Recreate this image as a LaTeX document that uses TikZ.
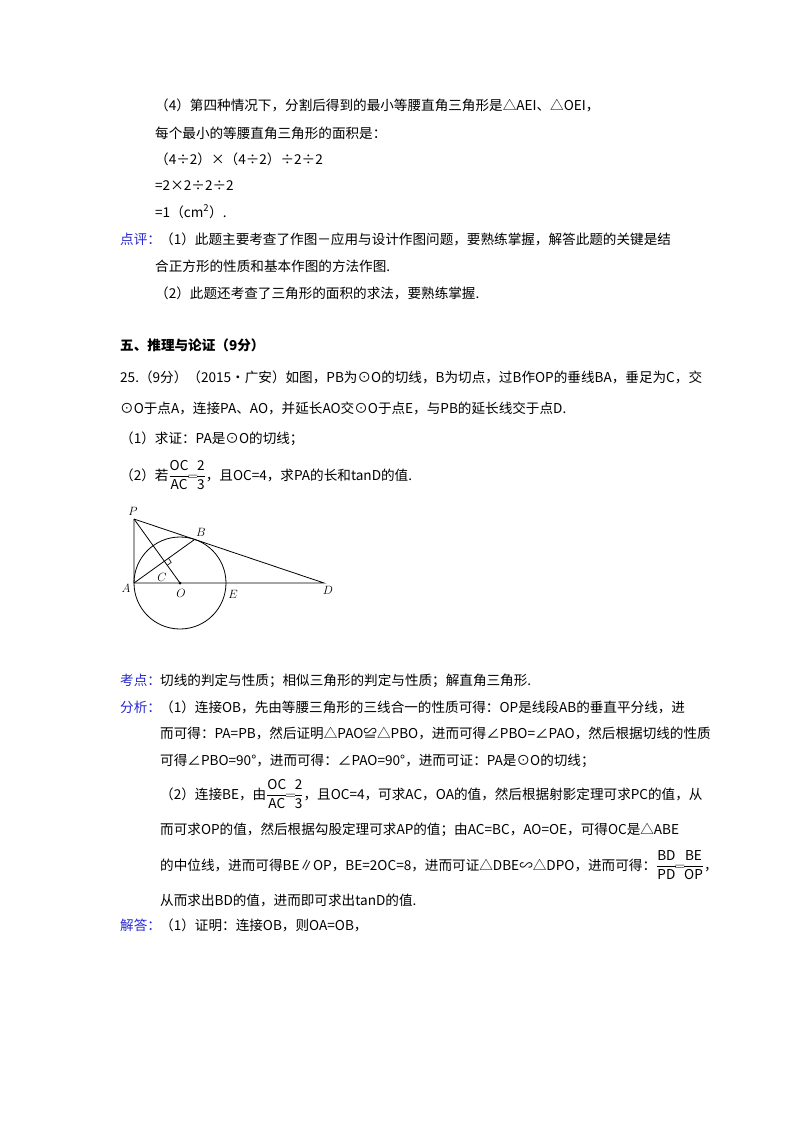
\documentclass[tikz,border=0pt]{standalone}
\usepackage{fontspec}
\setmainfont{Noto Sans CJK SC}
\usetikzlibrary{calc}
\definecolor{lblue}{RGB}{40,40,210}
\newcommand{\fr}[2]{$\dfrac{\mathrm{#1}}{\mathrm{#2}}$}
\usepackage{amsmath}
\begin{document}
\begin{tikzpicture}[x=1pt,y=-1pt,
  t/.style={anchor=base west,inner sep=0pt,font=\fontsize{13.6}{15}\selectfont},
  lb/.style={t,text=lblue},
  pt/.style={inner sep=0pt,font=\fontsize{13}{14}\selectfont}]
\fill[white] (0,0) rectangle (800,1132);
\useasboundingbox (0,0) rectangle (800,1132);
\node[t] (l1) at (155,110) {（4）第四种情况下，分割后得到的最小等腰直角三角形是△AEI、△OEI，};
\node[t] (l2) at (155,138) {每个最小的等腰直角三角形的面积是：};
\node[t] (l3) at (155,164) {（4÷2）×（4÷2）÷2÷2};
\node[t] (l4) at (155,190) {=2×2÷2÷2};
\node[t] (l5) at (155,217) {=1（cm\textsuperscript{2}）.};
\node[lb] (d1) at (120,244) {点评：};
\node[t] (l6) at (160,244) {（1）此题主要考查了作图－应用与设计作图问题，要熟练掌握，解答此题的关键是结};
\node[t] (l7) at (155,271) {合正方形的性质和基本作图的方法作图.};
\node[t] (l8) at (155,298) {（2）此题还考查了三角形的面积的求法，要熟练掌握.};
\node[t,font=\fontsize{13.6}{15}\selectfont\bfseries] (h) at (120,350) {五、推理与论证（9分）};
\node[t] (q1) at (120,382) {25.（9分）（2015•广安）如图，PB为⊙O的切线，B为切点，过B作OP的垂线BA，垂足为C，交};
\node[t] (q2) at (120,413) {⊙O于点A，连接PA、AO，并延长AO交⊙O于点E，与PB的延长线交于点D.};
\node[t] (q3) at (120,443) {（1）求证：PA是⊙O的切线；};
\node[t] (q4) at (120,480) {（2）若\fr{OC}{AC}$\!=\!$\fr{2}{3}，且OC=4，求PA的长和tanD的值.};
% figure
\coordinate (A) at (134,583);
\coordinate (O) at (180,583);
\coordinate (E) at (226,583);
\coordinate (D) at (324,583);
\coordinate (P) at (134,519);
\coordinate (B) at (194.7,539.4);
\coordinate (C) at (164.3,561.2);
\draw[line width=0.8pt] (O) circle (46);
\draw[line width=0.8pt] (P) -- (A) -- (D) -- (P);
\draw[line width=0.8pt] (A) -- (B);
\draw[line width=0.8pt] (P) -- (O);
\draw[line width=0.6pt] ($(C)!5pt!(B)$) -- ($(C)!5pt!(B)+(C)!5pt!(O)-(C)$) -- ($(C)!5pt!(O)$);
\fill (O) circle (1.5);
\node[pt] (nP) at (133,511) {$P$};
\node[pt] (nB) at (201,532) {$B$};
\node[pt] (nC) at (162,577) {$C$};
\node[pt] (nA) at (126,588) {$A$};
\node[pt] (nO) at (181,593) {$O$};
\node[pt] (nE) at (233,594) {$E$};
\node[pt] (nD) at (328,590) {$D$};
% analysis
\node[lb] (k) at (120,685) {考点：};
\node[t] (k1) at (160,685) {切线的判定与性质；相似三角形的判定与性质；解直角三角形.};
\node[lb] (f) at (120,712) {分析：};
\node[t] (f1) at (160,712) {（1）连接OB，先由等腰三角形的三线合一的性质可得：OP是线段AB的垂直平分线，进};
\node[t] (f2) at (160,738) {而可得：PA=PB，然后证明△PAO≌△PBO，进而可得∠PBO=∠PAO，然后根据切线的性质};
\node[t] (f3) at (160,765) {可得∠PBO=90°，进而可得：∠PAO=90°，进而可证：PA是⊙O的切线；};
\node[t] (f4) at (160,799) {（2）连接BE，由\fr{OC}{AC}$\!=\!$\fr{2}{3}，且OC=4，可求AC，OA的值，然后根据射影定理可求PC的值，从};
\node[t] (f5) at (160,834) {而可求OP的值，然后根据勾股定理可求AP的值；由AC=BC，AO=OE，可得OC是△ABE};
\node[t] (f6) at (160,870) {的中位线，进而可得BE∥OP，BE=2OC=8，进而可证△DBE∽△DPO，进而可得：\fr{BD}{PD}$\!=\!$\fr{BE}{OP}，};
\node[t] (f7) at (160,905) {从而求出BD的值，进而即可求出tanD的值.};
\node[lb] (j) at (120,930) {解答：};
\node[t] (j1) at (160,930) {（1）证明：连接OB，则OA=OB，};
\end{tikzpicture}
\end{document}
